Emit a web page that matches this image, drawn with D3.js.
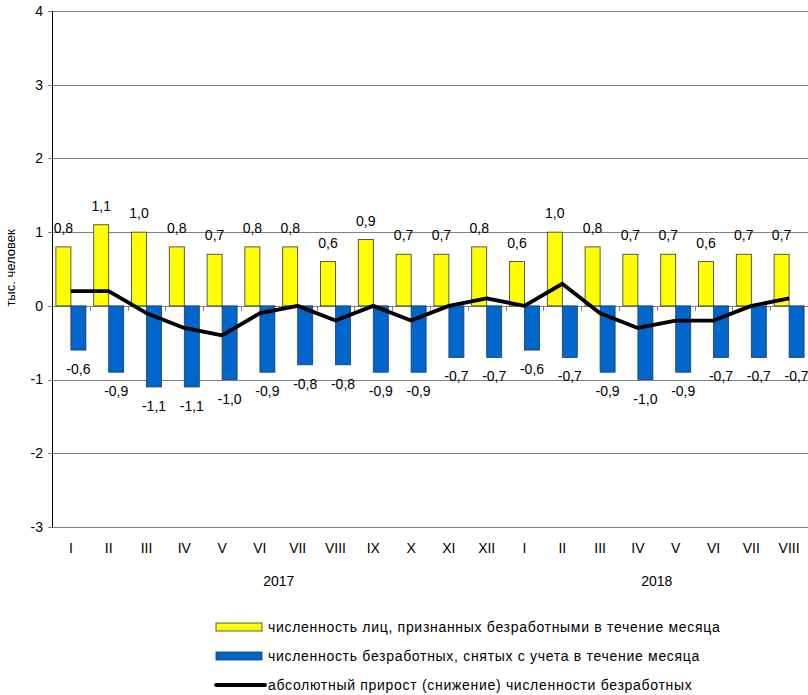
<!DOCTYPE html>
<html>
<head>
<meta charset="utf-8">
<script src="https://cdn.jsdelivr.net/npm/d3@7"></script>
<style>
  body { margin: 0; background: #fff; }
  text { font-family: "Liberation Sans", Arial, sans-serif; fill: #000; }
</style>
</head>
<body>
<svg id="chart" width="808" height="695"></svg>
<script>
// Months (two years)
var months = ["I","II","III","IV","V","VI","VII","VIII","IX","X","XI","XII",
              "I","II","III","IV","V","VI","VII","VIII"];
var years = [{ name: "2017", from: 0, to: 11 }, { name: "2018", from: 12, to: 19 }];

// registered as unemployed during the month
var registered = [0.8,1.1,1.0,0.8,0.7,0.8,0.8,0.6,0.9,0.7,0.7,0.8,0.6,1.0,0.8,0.7,0.7,0.6,0.7,0.7];
// removed from the register during the month
var removed = [-0.6,-0.9,-1.1,-1.1,-1.0,-0.9,-0.8,-0.8,-0.9,-0.9,-0.7,-0.7,-0.6,-0.7,-0.9,-1.0,-0.9,-0.7,-0.7,-0.7];
// absolute growth (decline)
var growth = [0.2,0.2,-0.1,-0.3,-0.4,-0.1,0.0,-0.2,0.0,-0.2,0.0,0.1,0.0,0.3,-0.1,-0.3,-0.2,-0.2,0.0,0.1];

var yTicks = [-3,-2,-1,0,1,2,3,4];
var legendLabels = [
  "численность лиц, признанных безработными в течение месяца",
  "численность безработных, снятых с учета в течение месяца",
  "абсолютный прирост (снижение) численности безработных"
];

var svg = d3.select("#chart");
var plotLeft = 52, plotRight = 808, plotTop = 11, plotBottom = 527;

var x = d3.scaleBand()
  .domain(d3.range(months.length))
  .range([plotLeft, plotRight]);

var sub = d3.scaleBand()
  .domain(["reg", "rem"])
  .range([0, x.bandwidth()])
  .paddingInner(0)
  .paddingOuter(0.26);

var y = d3.scaleLinear().domain([-3, 4]).range([plotBottom, plotTop]);

var fmt = function(v) { return d3.format(".1f")(v).replace(".", ",").replace("−", "-"); };

// gridlines
svg.append("g")
  .selectAll("line")
  .data(yTicks)
  .enter().append("line")
  .attr("x1", plotLeft - 4)
  .attr("x2", plotRight)
  .attr("y1", function(d) { return Math.round(y(d)) + 0.5; })
  .attr("y2", function(d) { return Math.round(y(d)) + 0.5; })
  .attr("stroke", "#808080")
  .attr("stroke-width", 1);

// y tick labels
svg.append("g")
  .selectAll("text")
  .data(yTicks)
  .enter().append("text")
  .attr("x", 43)
  .attr("y", function(d) { return y(d); })
  .attr("dy", "0.35em")
  .attr("text-anchor", "end")
  .style("font-size", "14px")
  .text(function(d) { return d < 0 ? "-" + Math.abs(d) : d; });

// yellow bars
svg.append("g")
  .selectAll("rect")
  .data(registered)
  .enter().append("rect")
  .attr("x", function(d, i) { return x(i) + sub("reg"); })
  .attr("y", function(d) { return y(d); })
  .attr("width", sub.bandwidth())
  .attr("height", function(d) { return y(0) - y(d); })
  .attr("fill", "#FFFF00")
  .attr("stroke", "#333")
  .attr("stroke-width", 0.8);

// blue bars
svg.append("g")
  .selectAll("rect")
  .data(removed)
  .enter().append("rect")
  .attr("x", function(d, i) { return x(i) + sub("rem"); })
  .attr("y", y(0))
  .attr("width", sub.bandwidth())
  .attr("height", function(d) { return y(d) - y(0); })
  .attr("fill", "#0066CC")
  .attr("stroke", "#1a3a66")
  .attr("stroke-width", 0.8);

// zero axis tick marks
svg.append("g")
  .selectAll("line")
  .data(d3.range(1, months.length))
  .enter().append("line")
  .attr("x1", function(d) { return Math.round(x(d)) + 0.5; })
  .attr("x2", function(d) { return Math.round(x(d)) + 0.5; })
  .attr("y1", y(0))
  .attr("y2", y(0) + 5)
  .attr("stroke", "#808080");

// y axis line
svg.append("line")
  .attr("x1", plotLeft + 0.5).attr("x2", plotLeft + 0.5)
  .attr("y1", plotTop).attr("y2", plotBottom + 1)
  .attr("stroke", "#000");

// growth line
var line = d3.line()
  .x(function(d, i) { return x(i) + x.bandwidth() / 2; })
  .y(function(d) { return y(d); });

svg.append("path")
  .datum(growth)
  .attr("d", line)
  .attr("fill", "none")
  .attr("stroke", "#000")
  .attr("stroke-width", 3.8)
  .attr("stroke-linejoin", "round");

// value labels
svg.append("g")
  .selectAll("text")
  .data(registered)
  .enter().append("text")
  .attr("x", function(d, i) { return x(i) + sub("reg") + sub.bandwidth() / 2; })
  .attr("y", function(d) { return y(d) - 14; })
  .attr("text-anchor", "middle")
  .style("font-size", "14px")
  .text(fmt);

svg.append("g")
  .selectAll("text")
  .data(removed)
  .enter().append("text")
  .attr("x", function(d, i) { return x(i) + sub("rem") + sub.bandwidth() / 2; })
  .attr("y", function(d) { return y(d) + 24; })
  .attr("text-anchor", "middle")
  .style("font-size", "14px")
  .text(fmt);

// month labels
svg.append("g")
  .selectAll("text")
  .data(months)
  .enter().append("text")
  .attr("x", function(d, i) { return x(i) + x.bandwidth() / 2; })
  .attr("y", 553)
  .attr("text-anchor", "middle")
  .style("font-size", "14px")
  .text(function(d) { return d; });

// year labels
svg.append("g")
  .selectAll("text")
  .data(years)
  .enter().append("text")
  .attr("x", function(d) { return (x(d.from) + x(d.to) + x.bandwidth()) / 2; })
  .attr("y", 586)
  .attr("text-anchor", "middle")
  .style("font-size", "14px")
  .text(function(d) { return d.name; });

// y axis title
svg.append("text")
  .attr("transform", "translate(15,268) rotate(-90)")
  .attr("text-anchor", "middle")
  .style("font-size", "13px")
  .text("тыс. человек");

// legend
var legend = svg.append("g").attr("transform", "translate(216,627)");
var rowH = 29;
legend.append("rect")
  .attr("x", 0).attr("y", -4).attr("width", 46).attr("height", 8)
  .attr("fill", "#FFFF00").attr("stroke", "#333").attr("stroke-width", 0.8);
legend.append("rect")
  .attr("x", 0).attr("y", rowH - 4).attr("width", 46).attr("height", 8)
  .attr("fill", "#0066CC").attr("stroke", "#1a3a66").attr("stroke-width", 0.8);
legend.append("line")
  .attr("x1", 0).attr("x2", 49).attr("y1", rowH * 2).attr("y2", rowH * 2)
  .attr("stroke", "#000").attr("stroke-width", 3.8).attr("stroke-linecap", "round");
legend.selectAll("text.lg")
  .data(legendLabels)
  .enter().append("text")
  .attr("class", "lg")
  .attr("x", 52)
  .attr("y", function(d, i) { return i * rowH; })
  .attr("dy", "0.35em")
  .style("font-size", "14px")
  .style("letter-spacing", "0.7px")
  .text(function(d) { return d; });
</script>
</body>
</html>
